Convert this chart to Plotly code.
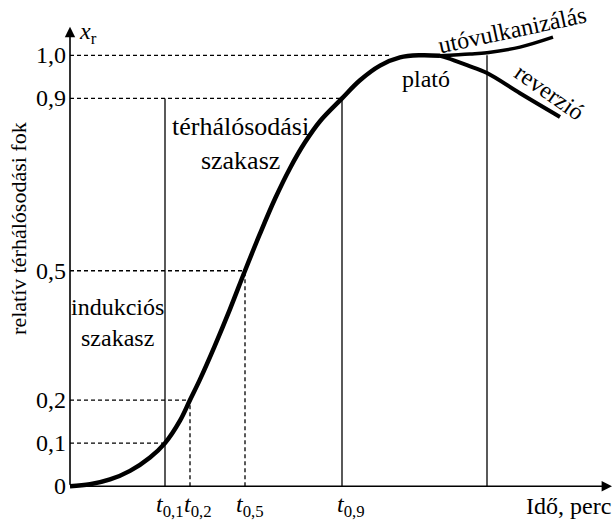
import plotly.graph_objects as go

# Vulcanization curve: relative crosslink degree vs. time (arbitrary time units)
t_main = [0.0, 2.0, 4.0, 6.0, 8.0, 9.5, 11.0, 12.0, 13.0, 14.5, 16.0, 17.5,
          19.0, 20.5, 22.0, 23.5, 25.0, 27.2, 29.0, 31.0, 33.0, 35.0, 37.0]
x_main = [0.0, 0.0044, 0.0156, 0.0356, 0.0667, 0.10, 0.152, 0.20, 0.248, 0.327, 0.411, 0.50,
          0.586, 0.667, 0.738, 0.798, 0.847, 0.90, 0.942, 0.976, 0.995, 1.0, 0.999]

# Marching (post-cure) branch
t_post = [37.0, 40.0, 41.7, 45.0, 48.3]
x_post = [0.999, 1.003, 1.006, 1.019, 1.042]

# Reversion branch
t_rev = [37.0, 37.7, 39.7, 41.7, 45.0, 49.0]
x_rev = [0.999, 0.994, 0.977, 0.959, 0.912, 0.857]

# Characteristic times and degrees
x_levels = [0.1, 0.2, 0.5, 0.9]
t_levels = [9.5, 12.0, 17.5, 27.2]
t_plateau_end = 41.7
t_plateau_start = 32.0

y_ticks = [0, 0.1, 0.2, 0.5, 0.9, 1.0]
y_ticklabels = ["0", "0,1", "0,2", "0,5", "0,9", "1,0"]
x_ticklabels = ["<i>t</i><sub>0,1</sub>", "<i>t</i><sub>0,2</sub>",
                "<i>t</i><sub>0,5</sub>", "<i>t</i><sub>0,9</sub>"]

FONT = "Liberation Serif"
FS = 24

fig = go.Figure()

shapes = []
dash = "4px,3px"
# dashed horizontal guides
for xv, tv in zip(x_levels, t_levels):
    shapes.append(dict(type="line", x0=0, x1=tv, y0=xv, y1=xv,
                       line=dict(color="black", width=1.3, dash=dash)))
shapes.append(dict(type="line", x0=0, x1=t_plateau_start, y0=1.0, y1=1.0,
                   line=dict(color="black", width=1.3, dash=dash)))
# dashed verticals for t0.2 and t0.5
for xv, tv in zip(x_levels[1:3], t_levels[1:3]):
    shapes.append(dict(type="line", x0=tv, x1=tv, y0=0, y1=xv,
                       line=dict(color="black", width=1.3, dash=dash)))
# solid verticals bounding the stages
for tv, top in [(t_levels[0], 0.9), (t_levels[3], 0.9), (t_plateau_end, 1.0)]:
    shapes.append(dict(type="line", x0=tv, x1=tv, y0=0, y1=top,
                       line=dict(color="black", width=1.3)))
fig.update_layout(shapes=shapes)

# curves
fig.add_trace(go.Scatter(x=t_post, y=x_post, mode="lines",
                         line=dict(color="black", width=3.5, shape="spline")))
fig.add_trace(go.Scatter(x=t_rev, y=x_rev, mode="lines",
                         line=dict(color="black", width=4, shape="spline")))
fig.add_trace(go.Scatter(x=t_main, y=x_main, mode="lines",
                         line=dict(color="black", width=4.5, shape="spline", smoothing=1)))

ann = []
# axes with arrowheads
ann.append(dict(x=54.2, y=0, ax=0, ay=0, xref="x", yref="y", axref="x", ayref="y",
                showarrow=True, arrowhead=2, arrowsize=1.3, arrowwidth=1.6,
                arrowcolor="black", text=""))
ann.append(dict(x=0, y=1.066, ax=0, ay=0, xref="x", yref="y", axref="x", ayref="y",
                showarrow=True, arrowhead=2, arrowsize=1.3, arrowwidth=1.6,
                arrowcolor="black", text=""))

# y tick labels
for v, lab in zip(y_ticks, y_ticklabels):
    ann.append(dict(x=-0.2, y=v, text=lab, xanchor="right", yanchor="middle",
                    showarrow=False, font=dict(family=FONT, size=FS, color="black")))
# x tick labels
for tv, lab, sh in zip(t_levels, x_ticklabels, [-11, -8, -11, -7]):
    ann.append(dict(x=tv, y=-0.045, text=lab, xanchor="left", yanchor="middle",
                    xshift=sh, showarrow=False,
                    font=dict(family=FONT, size=FS, color="black")))

def label(x, y, text, angle=0, size=FS, **kw):
    d = dict(x=x, y=y, text=text, showarrow=False, textangle=angle,
             font=dict(family=FONT, size=size, color="black"))
    d.update(kw)
    ann.append(d)

label(0.7, 1.052, "<i>x</i><sub>r</sub>", xanchor="left", yanchor="middle")
label(54.3, -0.046, "Idő, perc", xanchor="right", yanchor="middle")
label(-5.1, 0.597, "relatív térhálósodási fok", angle=-90, size=22)
label(4.7, 0.381, "indukciós<br>szakasz")
label(17.0, 0.795, "térhálósodási<br>szakasz", size=26)
label(35.6, 0.944, "plató")
label(44.2, 1.058, "utóvulkanizálás", angle=-12)
label(47.9, 0.914, "reverzió", angle=35)

fig.update_layout(
    annotations=ann,
    width=613, height=520,
    margin=dict(l=0, r=0, t=0, b=0),
    paper_bgcolor="white", plot_bgcolor="white",
    showlegend=False,
    xaxis=dict(range=[-7.0, 54.3], visible=False, fixedrange=True),
    yaxis=dict(range=[-0.0784, 1.1283], visible=False, fixedrange=True),
)

fig.write_html("out.html", config={"displayModeBar": False})
